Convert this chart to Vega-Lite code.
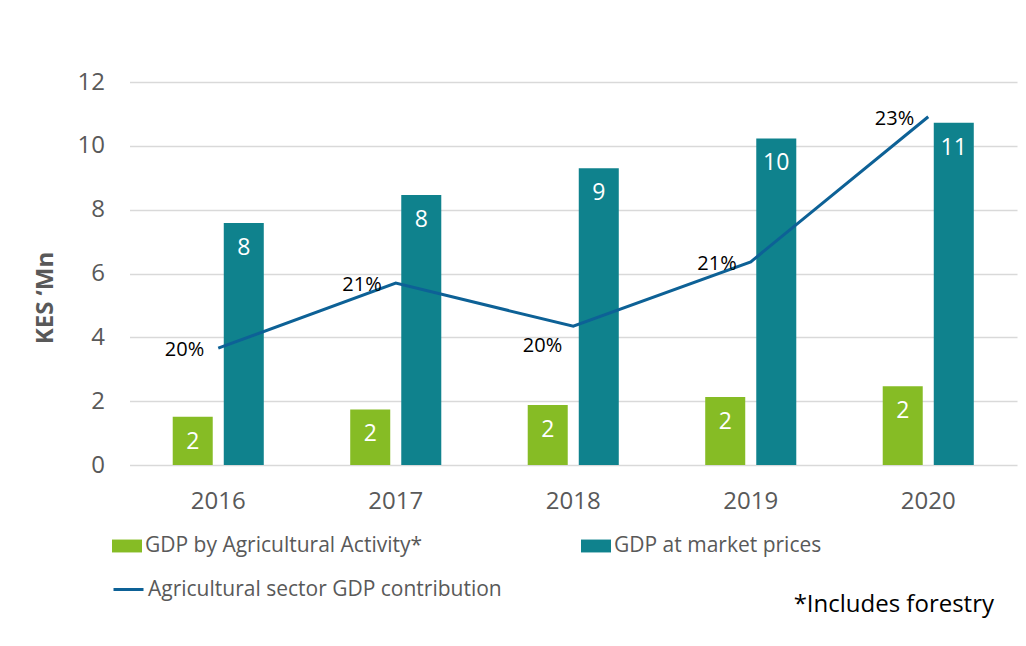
{
  "$schema": "https://vega.github.io/schema/vega-lite/v6.json",
  "width": 887.5,
  "height": 383,
  "autosize": "none",
  "padding": {"left": 129.5, "top": 82, "right": 9, "bottom": 181},
  "background": "white",
  "config": {"font": "Open Sans", "view": {"stroke": null}},
  "datasets": {
    "gdp": [
      {"year": "2016", "series": "GDP by Agricultural Activity*", "value": 1.51},
      {"year": "2016", "series": "GDP at market prices", "value": 7.58},
      {"year": "2017", "series": "GDP by Agricultural Activity*", "value": 1.74},
      {"year": "2017", "series": "GDP at market prices", "value": 8.46},
      {"year": "2018", "series": "GDP by Agricultural Activity*", "value": 1.88},
      {"year": "2018", "series": "GDP at market prices", "value": 9.3},
      {"year": "2019", "series": "GDP by Agricultural Activity*", "value": 2.13},
      {"year": "2019", "series": "GDP at market prices", "value": 10.23},
      {"year": "2020", "series": "GDP by Agricultural Activity*", "value": 2.47},
      {"year": "2020", "series": "GDP at market prices", "value": 10.72}
    ],
    "share": [
      {"year": "2016", "share": 0.196},
      {"year": "2017", "share": 0.2064},
      {"year": "2018", "share": 0.1995},
      {"year": "2019", "share": 0.2098},
      {"year": "2020", "share": 0.233}
    ]
  },
  "resolve": {"scale": {"y": "independent"}},
  "layer": [
    {
      "data": {"name": "gdp"},
      "encoding": {
        "x": {
          "field": "year", "type": "nominal",
          "scale": {"paddingInner": 0.487, "paddingOuter": 0.2435},
          "axis": {
            "title": "*Includes forestry",
            "titleX": 864, "titleY": 139, "titleAlign": "right", "titleBaseline": "middle",
            "titleFontSize": 24, "titleFontWeight": "normal", "titleColor": "#000000", "titleFont": "Open Sans",
            "labelFontSize": 24, "labelColor": "#595959", "labelPadding": 24, "labelAngle": 0,
            "ticks": false, "domain": false, "grid": false
          }
        },
        "xOffset": {"field": "series", "type": "nominal", "sort": ["GDP by Agricultural Activity*", "GDP at market prices"], "scale": {"paddingInner": 0.216, "paddingOuter": 0}},
        "y": {
          "field": "value", "type": "quantitative",
          "scale": {"domain": [0, 12], "nice": false},
          "axis": {
            "title": "KES ‘Mn", "titleX": -84, "titleY": 215.5, "titleAngle": 270, "titleAlign": "center", "titleBaseline": "middle",
            "titleFontSize": 24, "titleFontWeight": "bold", "titleColor": "#595959",
            "values": [0, 2, 4, 6, 8, 10, 12],
            "labelFontSize": 24, "labelColor": "#595959", "labelPadding": 25,
            "ticks": false, "domain": false,
            "gridColor": "#d9d9d9", "gridWidth": 1.5
          }
        }
      },
      "layer": [
        {
          "mark": {"type": "bar"},
          "encoding": {
            "color": {
              "field": "series", "type": "nominal",
              "scale": {"domain": ["GDP by Agricultural Activity*", "GDP at market prices"], "range": ["#86bc25", "#0f828d"]},
              "legend": {
                "title": null, "orient": "none", "legendX": -17.5, "legendY": 449,
                "columns": 2, "columnPadding": 158,
                "symbolType": "M-1,-0.43H1V0.43H-1Z", "symbolSize": 900, "symbolStrokeWidth": 0,
                "labelFontSize": 21, "labelColor": "#595959", "labelOffset": 3, "labelLimit": 0
              }
            }
          }
        },
        {
          "mark": {"type": "text", "color": "white", "fontSize": 23, "baseline": "middle", "dy": 25},
          "encoding": {"text": {"field": "value", "type": "quantitative", "format": ".0f"}}
        }
      ]
    },
    {
      "data": {"name": "share"},
      "encoding": {
        "x": {"field": "year", "type": "nominal"},
        "y": {"field": "share", "type": "quantitative", "scale": {"domain": [0.17732, 0.23856], "nice": false, "zero": false}, "axis": null}
      },
      "layer": [
        {
          "mark": {"type": "line", "strokeWidth": 3},
          "encoding": {
            "stroke": {
              "datum": "Agricultural sector GDP contribution",
              "scale": {"range": ["#0d6196"]},
              "legend": {
                "title": null, "orient": "none", "legendX": -17.5, "legendY": 491,
                "symbolType": "stroke", "symbolSize": 900, "symbolStrokeWidth": 3,
                "labelFontSize": 21, "labelColor": "#595959", "labelOffset": 3, "labelLimit": 0
              }
            }
          }
        },
        {
          "transform": [{"filter": "datum.year != '2018'"}],
          "mark": {"type": "text", "color": "#000000", "fontSize": 20, "align": "right", "baseline": "middle", "dx": -14, "dy": 2},
          "encoding": {"text": {"field": "share", "type": "quantitative", "format": ".0%"}}
        },
        {
          "transform": [{"filter": "datum.year == '2018'"}],
          "mark": {"type": "text", "color": "#000000", "fontSize": 20, "align": "right", "baseline": "middle", "dx": -11, "dy": 20},
          "encoding": {"text": {"field": "share", "type": "quantitative", "format": ".0%"}}
        }
      ]
    }
  ]
}
